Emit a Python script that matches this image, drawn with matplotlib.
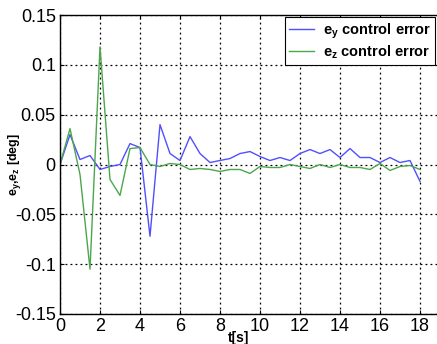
import matplotlib
matplotlib.use('Agg')
import matplotlib.pyplot as plt

plt.rcParams['font.family'] = 'Liberation Sans'
plt.rcParams['mathtext.fontset'] = 'custom'
plt.rcParams['mathtext.rm'] = 'Liberation Sans:bold'
plt.rcParams['mathtext.it'] = 'Liberation Sans:bold'
plt.rcParams['mathtext.bf'] = 'Liberation Sans:bold'
plt.rcParams['axes.unicode_minus'] = False

# sample times [s]
t = [0.0, 0.5, 1.0, 1.5, 2.0, 2.5, 3.0, 3.5, 4.0, 4.5, 5.0, 5.5, 6.0, 6.5,
     7.0, 7.5, 8.0, 8.5, 9.0, 9.5, 10.0, 10.5, 11.0, 11.5, 12.0, 12.5, 13.0,
     13.5, 14.0, 14.5, 15.0, 15.5, 16.0, 16.5, 17.0, 17.5, 18.0]

# control errors [deg]
ey = [0.0, 0.03, 0.005, 0.009, -0.005, -0.002, 0.0, 0.021, 0.017, -0.072,
      0.04, 0.011, 0.004, 0.028, 0.011, 0.002, 0.004, 0.006, 0.011, 0.013,
      0.008, 0.004, 0.007, 0.004, 0.011, 0.015, 0.011, 0.015, 0.007, 0.016,
      0.007, 0.007, 0.002, 0.007, 0.002, 0.004, -0.017]
ez = [0.0, 0.036, -0.01, -0.105, 0.118, -0.015, -0.031, 0.016, 0.017, 0.0,
      -0.002, 0.001, 0.0, -0.005, -0.004, -0.005, -0.007, -0.005, -0.005,
      -0.009, -0.002, -0.003, -0.003, 0.0, -0.002, -0.004, 0.0, -0.003, 0.0,
      -0.003, -0.003, -0.005, 0.001, -0.006, -0.002, -0.001, -0.005]

xticks = [0, 2, 4, 6, 8, 10, 12, 14, 16, 18]
yticks = [-0.15, -0.1, -0.05, 0, 0.05, 0.1, 0.15]
yticklabels = ['-0.15', '-0.1', '-0.05', '0', '0.05', '0.1', '0.15']

fig = plt.figure(figsize=(4.37, 3.44), dpi=100)
# axes runs off the right edge (x limit 20)
ax = fig.add_axes([60 / 437, 30 / 344, 400 / 437, 299 / 344])

ax.plot(t, ey, color='#5050ff', lw=1.0, label='e$_y$ control error')
ax.plot(t, ez, color='#4ca64c', lw=1.0, label='e$_z$ control error')

ax.set_xlim(0, 20)
ax.set_ylim(-0.15, 0.15)
ax.set_xticks(xticks)
ax.set_yticks(yticks)
ax.set_yticklabels(yticklabels)
ax.tick_params(direction='in', length=3, labelsize=13, pad=3,
               top=True, right=True)
ax.grid(True, color='black', linestyle=(0, (1.5, 2.5)), linewidth=0.9)
for s in ax.spines.values():
    s.set_linewidth(1.0)

ax.set_ylabel('e$_y$,e$_z$ [deg]', fontsize=9, fontweight='bold')
ax.yaxis.set_label_coords(-0.092, 0.5)
# time label squeezed in between the 8 and 10 ticks
fig.text(239 / 437, 1 - 338 / 344, 't[s]', fontsize=10, fontweight='bold',
         ha='center', va='center')

leg = ax.legend(loc='upper right', bbox_to_anchor=(435 / 437, 1 - 17 / 344),
                bbox_transform=fig.transFigure, borderaxespad=0,
                prop={'weight': 'bold', 'size': 10.5}, fancybox=False,
                framealpha=1, edgecolor='black', handlelength=1.7,
                handletextpad=0.6, borderpad=0.3, labelspacing=0.2)
leg.get_frame().set_linewidth(0.8)

fig.savefig('out.png', dpi=100)
